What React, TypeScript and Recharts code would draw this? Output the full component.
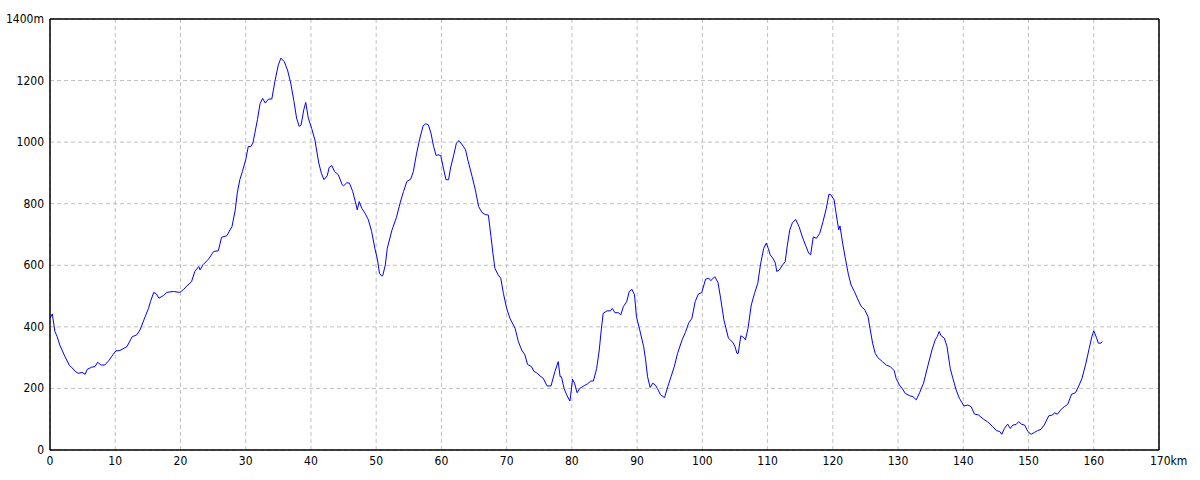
import React from 'react';
import { LineChart, Line, XAxis, YAxis, CartesianGrid, ReferenceLine } from 'recharts';

// course profile: distance (km) / elevation (m)
const distanceKm = [
  0, 0.35, 0.75, 1.1, 1.5, 2.3, 3.0, 3.3, 3.8, 4.3, 4.9, 5.4, 5.7, 6.4, 6.9, 7.3, 7.8, 8.4, 9.0, 9.7,
  10.1, 10.7, 11.8, 12.6, 13.3, 13.8, 14.4, 15.1, 15.4, 15.9, 16.3, 16.7, 17.4, 17.9, 18.9, 19.9,
  20.5, 21.0, 21.7, 22.2, 22.8, 23.0, 23.5, 24.3, 25.1, 25.8, 26.3, 27.1, 27.9, 28.4, 28.7, 29.1, 29.5,
  30.0, 30.4, 30.8, 31.1, 31.4, 31.8, 32.2, 32.6, 33.0, 33.5, 34.0, 34.5, 35.0, 35.4, 35.9, 36.4, 36.9,
  37.4, 37.8, 38.2, 38.5, 38.9, 39.2, 39.6, 40.1, 40.6, 41.2, 41.6, 42.0, 42.5, 42.8, 43.2, 43.6, 44.2,
  44.8, 45.0, 45.5, 45.9, 46.4, 46.8, 47.1, 47.4, 47.8, 48.3, 48.8, 49.3, 49.8, 50.2, 50.5, 50.8, 51.0,
  51.4, 51.7, 52.4, 53.1, 53.7, 54.2, 54.7, 55.3, 55.7, 56.2, 56.7, 57.2, 57.6, 58.0, 58.4, 58.8, 59.2,
  59.5, 59.9, 60.3, 60.7, 61.1, 61.4, 61.9, 62.3, 62.7, 63.2, 63.7, 64.1, 64.7, 65.2, 65.7, 66.2, 66.7,
  67.2, 67.6, 67.9, 68.2, 68.7, 69.1, 69.5, 70.0, 70.5, 71.3, 71.8, 72.3, 72.8, 73.2, 73.8, 74.2, 74.6,
  75.1, 75.6, 76.2, 76.8, 77.4, 77.9, 78.2, 78.4, 78.8, 79.2, 79.7, 80.1, 80.4, 80.8, 81.2, 81.9, 82.4,
  82.9, 83.3, 83.8, 84.2, 84.5, 84.8, 85.4, 85.9, 86.2, 86.6, 87.1, 87.5, 87.9, 88.4, 88.8, 89.2, 89.6,
  89.9, 90.4, 91.0, 91.3, 91.6, 92.0, 92.4, 92.8, 93.1, 93.6, 94.2, 94.7, 95.2, 95.7, 96.2, 96.9, 97.4,
  97.9, 98.4, 98.9, 99.4, 99.9, 100.5, 101.0, 101.3, 101.9, 102.4, 102.8, 103.3, 104.0, 104.7, 105.0,
  105.3, 105.5, 105.9, 106.3, 106.6, 107.0, 107.5, 108.0, 108.5, 108.9, 109.4, 109.8, 110.1, 110.4,
  110.8, 111.2, 111.4, 111.8, 112.3, 112.7, 113.0, 113.4, 113.8, 114.3, 114.8, 115.4, 115.9, 116.3,
  116.6, 117.0, 117.5, 118.0, 118.5, 119.0, 119.4, 119.7, 120.2, 120.5, 120.9, 121.1, 121.5, 121.9,
  122.4, 122.8, 123.3, 123.8, 124.3, 124.9, 125.4, 125.7, 126.1, 126.5, 126.9, 127.6, 128.2, 128.8,
  129.4, 129.7, 130.2, 130.7, 131.1, 131.8, 132.3, 132.8, 133.3, 133.9, 134.6, 135.2, 135.7, 136.0,
  136.3, 136.6, 137.1, 137.5, 138.0, 138.4, 138.9, 139.4, 140.1, 140.7, 141.2, 141.7, 142.3, 143.1,
  143.7, 144.5, 145.1, 145.6, 145.9, 146.3, 146.8, 147.2, 147.6, 148.1, 148.5, 148.9, 149.4, 149.9,
  150.4, 150.9, 151.4, 151.9, 152.4, 153.1, 153.7, 154.0, 154.4, 155.0, 155.5, 156.0, 156.6, 157.2,
  157.7, 158.2, 158.8, 159.3, 159.7, 160.0, 160.4, 160.7, 161.1, 161.3,
];

const elevationM = [
  428, 442, 385, 368, 341, 303, 274, 269, 257, 249, 252, 246, 262, 269, 271, 285, 276, 276, 290, 311,
  322, 323, 336, 368, 374, 390, 423, 460, 482, 512, 507, 493, 502, 512, 515, 512,
  522, 533, 547, 580, 596, 585, 603, 620, 645, 647, 691, 696, 726, 780, 834, 878, 905,
  943, 986, 986, 997, 1029, 1073, 1125, 1142, 1127, 1140, 1140, 1200, 1251, 1273, 1262, 1235, 1192,
  1132, 1078, 1051, 1056, 1105, 1129, 1078, 1045, 1008, 932, 899, 878, 891, 918, 924, 905, 894,
  861, 858, 868, 867, 840, 807, 780, 807, 785, 769, 748, 710, 655, 618, 574, 566, 566,
  601, 655, 713, 755, 805, 840, 872, 880, 905, 964, 1013, 1053, 1060, 1056, 1029, 986, 956,
  959, 956, 916, 878, 878, 916, 959, 997, 1005, 991, 975, 938, 889, 845, 791, 772, 765,
  763, 693, 639, 590, 569, 558, 509, 460, 428, 395, 352, 325, 309, 278, 271, 255, 251,
  241, 233, 208, 208, 255, 287, 238, 238, 200, 179, 159, 230, 217, 186, 200, 209, 215,
  224, 224, 265, 325, 390, 444, 452, 452, 460, 446, 446, 439, 466, 482, 515, 522, 504,
  433, 390, 336, 293, 238, 203, 217, 211, 200, 179, 170, 206, 238, 271, 314, 358, 382,
  412, 428, 482, 507, 511, 555, 558, 550, 563, 544, 493, 423, 363, 349, 336,
  314, 314, 371, 366, 358, 395, 471, 509, 542, 601, 655, 672, 655, 634,
  623, 607, 580, 585, 601, 612, 661, 715, 738, 749, 727, 688, 661, 639,
  634, 692, 688, 704, 742, 785, 831, 829, 812, 769, 715, 728, 672, 625,
  569, 536, 515, 491, 468, 455, 433, 395, 347, 314, 300, 287, 276, 271,
  258, 233, 211, 198, 184, 176, 173, 163, 186, 217, 276, 325, 358, 368,
  385, 371, 363, 336, 265, 233, 195, 168, 143, 146, 141, 117, 114, 100,
  92, 76, 63, 60, 51, 70, 84, 70, 81, 83, 92, 84, 81, 60,
  51, 57, 63, 67, 81, 111, 114, 121, 116, 132, 141, 148, 181, 186,
  208, 233, 282, 330, 368, 387, 366, 347, 347, 352,
];

const xTicks = [0, 10, 20, 30, 40, 50, 60, 70, 80, 90, 100, 110, 120, 130, 140, 150, 160, 170];
const yTicks = [0, 200, 400, 600, 800, 1000, 1200, 1400];

const profile = distanceKm.map((km, i) => ({ km, ele: elevationM[i] }));

const FONT = "'Liberation Sans Narrow', 'DejaVu Sans Condensed', 'Liberation Sans', sans-serif";

const XTick = ({ x, payload }: any) => {
  const v = payload.value;
  if (v === 170) {
    return (
      <text x={x - 9} y={465} textAnchor="start" fontSize={12} fontFamily={FONT} fill="#000">
        170km
      </text>
    );
  }
  return (
    <text x={x} y={465} textAnchor="middle" fontSize={12} fontFamily={FONT} fill="#000">
      {v}
    </text>
  );
};

const YTick = ({ y, payload }: any) => (
  <text x={44} y={y + 4} textAnchor="end" fontSize={12} fontFamily={FONT} fill="#000">
    {payload.value === 1400 ? '1400m' : payload.value}
  </text>
);

const App: React.FC = () => {
  return (
    <div style={{ position: 'absolute', left: 0, top: 0, width: 1200, height: 480, background: '#fff' }}>
      <LineChart width={1200} height={480} data={profile} margin={{ top: 19, right: 41, left: 0, bottom: 0 }}>
        <CartesianGrid stroke="#c0c0c0" strokeDasharray="4 3" />
        <XAxis
          dataKey="km"
          type="number"
          domain={[0, 170]}
          ticks={xTicks}
          height={30}
          tickLine={false}
          axisLine={{ stroke: '#000', strokeWidth: 1.5 }}
          tick={<XTick />}
          interval={0}
        />
        <YAxis
          type="number"
          domain={[0, 1400]}
          ticks={yTicks}
          width={50}
          tickLine={false}
          axisLine={{ stroke: '#000', strokeWidth: 1.5 }}
          tick={<YTick />}
          interval={0}
        />
        <ReferenceLine y={1400} stroke="#000" strokeWidth={1.5} />
        <ReferenceLine x={170} stroke="#000" strokeWidth={1.5} />
        <Line
          type="linear"
          dataKey="ele"
          stroke="#0000ff"
          strokeWidth={1}
          dot={false}
          isAnimationActive={false}
        />
      </LineChart>
    </div>
  );
};

export default App;
